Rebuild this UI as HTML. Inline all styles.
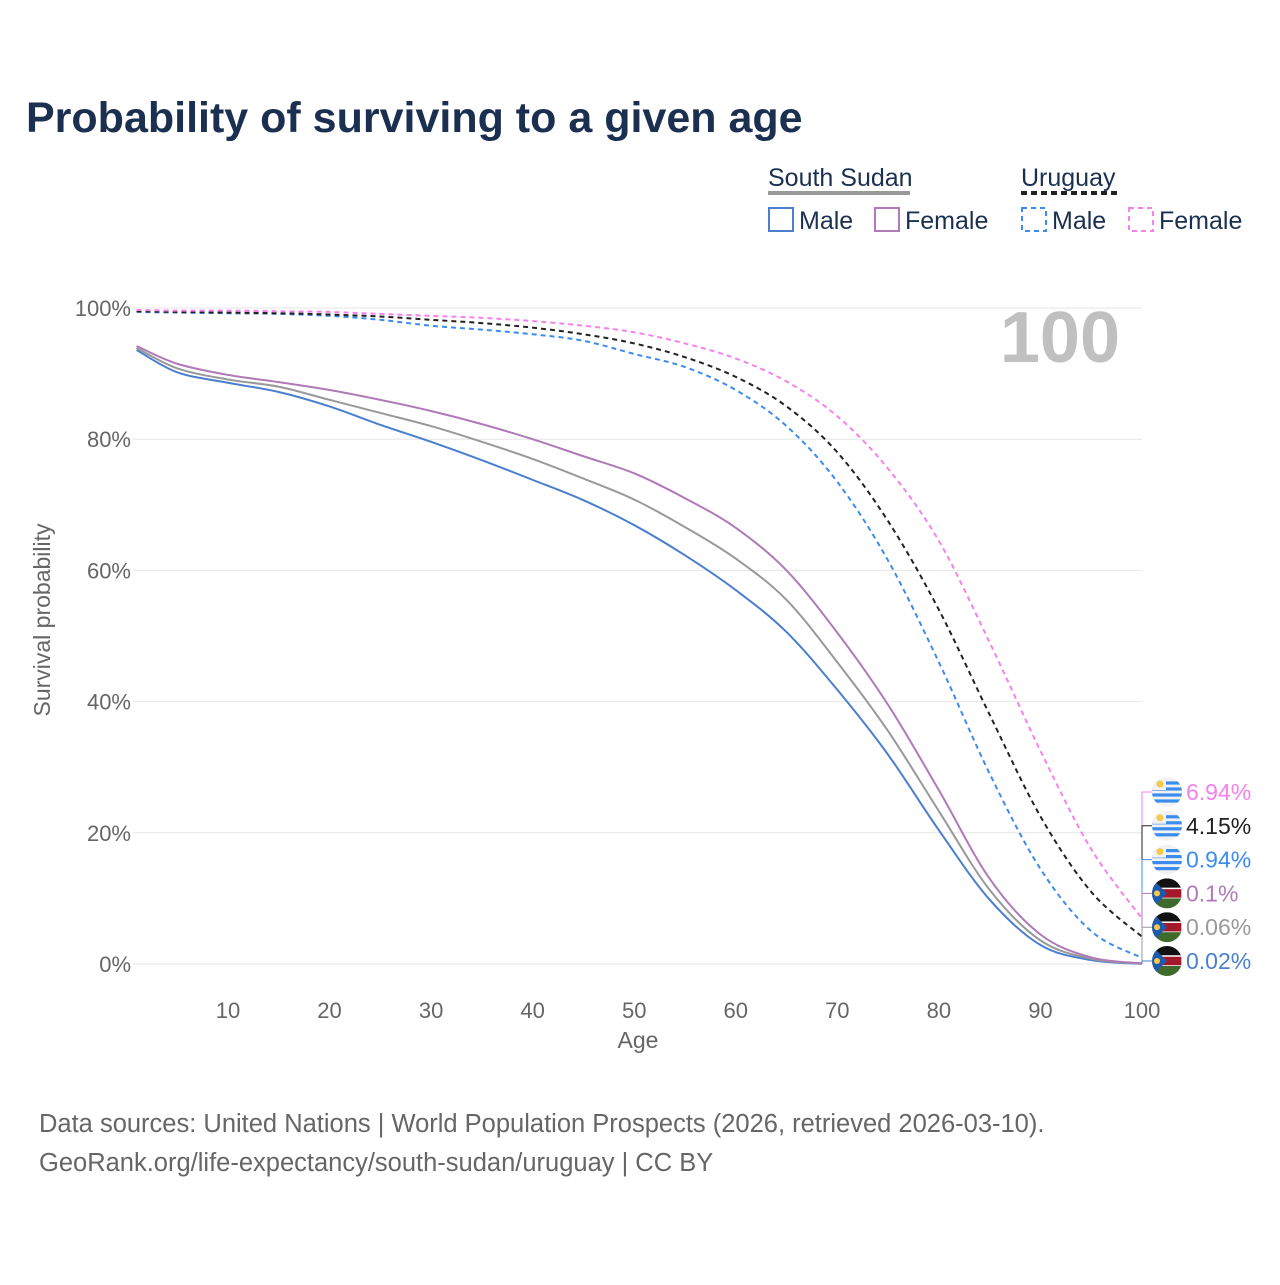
<!DOCTYPE html>
<html><head><meta charset="utf-8"><style>
body{margin:0;background:#fff;font-family:"Liberation Sans",sans-serif}
</style></head><body>
<svg id="c" width="1280" height="1280" xmlns="http://www.w3.org/2000/svg" style="font-family:'Liberation Sans',sans-serif">
<text x="26" y="132" font-size="43" font-weight="bold" fill="#1b3050">Probability of surviving to a given age</text>
<g font-size="25" fill="#1b3050">
<text x="768" y="186">South Sudan</text>
<line x1="768" x2="910" y1="193" y2="193" stroke="#999" stroke-width="4"/>
<text x="1021" y="186">Uruguay</text>
<line x1="1021" x2="1119" y1="193" y2="193" stroke="#222" stroke-width="4" stroke-dasharray="6,4"/>
<rect x="769" y="208" width="24" height="23" fill="none" stroke="#4a7fcf" stroke-width="2"/>
<text x="799" y="229">Male</text>
<rect x="875" y="208" width="24" height="23" fill="none" stroke="#b07ab8" stroke-width="2"/>
<text x="905" y="229">Female</text>
<rect x="1022" y="208" width="24" height="23" fill="none" stroke="#3c8cf0" stroke-width="2" stroke-dasharray="5,4"/>
<text x="1052" y="229">Male</text>
<rect x="1129" y="208" width="24" height="23" fill="none" stroke="#f780ef" stroke-width="2" stroke-dasharray="5,4"/>
<text x="1159" y="229">Female</text>
</g>
<text x="1120" y="362" font-size="72" font-weight="bold" fill="#c0c0c0" text-anchor="end">100</text>
<g id="grid"></g><g id="lines"></g><g id="ends"></g>
<text x="638" y="1048" font-size="23" fill="#666" text-anchor="middle">Age</text>
<text transform="translate(50,620) rotate(-90)" font-size="23" fill="#666" text-anchor="middle">Survival probability</text>
<text x="39" y="1132" font-size="25.5" fill="#666">Data sources: United Nations | World Population Prospects (2026, retrieved 2026-03-10).</text>
<text x="39" y="1171" font-size="25.5" fill="#666">GeoRank.org/life-expectancy/south-sudan/uruguay | CC BY</text>
</svg>
<script>
const ages=[1,5,10,15,20,25,30,35,40,45,50,55,60,65,70,75,80,85,90,95,100];
const ssMale=[93.6,90.2,88.6,87.2,85.0,82.2,79.6,76.8,73.8,70.7,66.9,62.3,57,50.6,41.8,31.9,20.4,9.8,2.9,0.6,0.02];
const ssFemale=[94.2,91.5,89.8,88.7,87.5,86,84.3,82.3,80,77.4,74.8,71,66.5,60,50.5,39.5,26.5,13,4.5,1,0.1];
const ssTotal=[93.9,90.8,89.1,88,86,84,82,79.6,77,74,70.8,66.6,61.8,55.5,46,35.5,23.3,11.3,3.6,0.8,0.06];
const uyMale=[99.4,99.3,99.2,99.1,98.8,98.2,97.3,96.7,96,95,93,91,87.5,82,73.5,61.5,46,29,14.5,5,0.94];
const uyTotal=[99.5,99.4,99.3,99.2,99,98.7,98.2,97.7,97,96,94.6,92.5,89.5,85,78,67.5,54,38,22.5,11,4.15];
const uyFemale=[99.7,99.6,99.6,99.5,99.4,99.1,98.8,98.5,98,97.3,96.3,94.6,92.3,88.8,83.5,75.5,64.5,49,32.5,17.5,6.94];
const xTicks=[10,20,30,40,50,60,70,80,90,100];
const yTicks=[0,20,40,60,80,100];
const X=a=>126.4+a*10.156, Y=v=>964-v*6.56;
const NS='http://www.w3.org/2000/svg';
function mk(t,at,p){const e=document.createElementNS(NS,t);for(const k in at)e.setAttribute(k,at[k]);p.appendChild(e);return e;}
const grid=document.getElementById('grid');
yTicks.forEach(v=>{
 const l=mk('line',{x1:133,x2:1142,y1:Y(v),y2:Y(v),stroke:'#e6e6e6','stroke-width':1},grid);
 
 
 const t=mk('text',{x:131,y:Y(v)+8,'font-size':22,fill:'#666','text-anchor':'end'},grid);
 t.textContent=v+'%';
 
 
});
xTicks.forEach(a=>{
 const t=mk('text',{x:X(a),y:1018,'font-size':22,fill:'#666','text-anchor':'middle'},grid);
 t.textContent=a;
 
 
});
const series=[
 ['ss-male',ssMale,'#4a7fcf',null],['ss-total',ssTotal,'#999',null],['ss-female',ssFemale,'#b07ab8',null],
 ['uy-male',uyMale,'#3c8cf0','5,4'],['uy-total',uyTotal,'#222','5,4'],['uy-female',uyFemale,'#f780ef','5,4']];
const lg=document.getElementById('lines');
function smooth(pts){let d='M'+pts[0][0]+','+pts[0][1];
 for(let i=0;i<pts.length-1;i++){const p0=pts[i-1]||pts[i],p1=pts[i],p2=pts[i+1],p3=pts[i+2]||p2;
 d+=' C'+(p1[0]+(p2[0]-p0[0])/6)+','+(p1[1]+(p2[1]-p0[1])/6)+' '+(p2[0]-(p3[0]-p1[0])/6)+','+(p2[1]-(p3[1]-p1[1])/6)+' '+p2[0]+','+p2[1];}
 return d;}
series.forEach(s=>{
 const pts=ages.map((a,i)=>[X(a),Y(s[1][i])]);
 const p=mk('path',{d:smooth(pts),fill:'none',stroke:s[2],'stroke-width':2},lg);
 if(s[3])p.setAttribute('stroke-dasharray',s[3]);
 
 
});
const ends=document.getElementById('ends');
const order=[[uyFemale,'#f780ef','uy'],[uyTotal,'#222','uy'],[uyMale,'#3c8cf0','uy'],[ssFemale,'#b07ab8','ss'],[ssTotal,'#999','ss'],[ssMale,'#4a7fcf','ss']];
order.forEach((o,i)=>{
 const ly=792+i*33.8,v=o[0][o[0].length-1];
 const c=mk('path',{d:`M${X(100)},${Y(v)} H1142 V${ly} H1152`,fill:'none',stroke:o[1],'stroke-width':1},ends);
 
 
 const g=mk('g',{},ends);
 
 
 const cx=1167,cy=ly;
 const cp=mk('clipPath',{id:'cp'+i},g);
 mk('circle',{cx,cy,r:15},cp);
 const h=mk('g',{'clip-path':`url(#cp${i})`},g);
 if(o[2]==='uy'){
  mk('rect',{x:cx-15,y:cy-15,width:30,height:30,fill:'#f2f2f2'},h);
  [-9,-3,3,9].forEach(dy=>mk('rect',{x:cx-15,y:cy+dy-1.6,width:30,height:3.2,fill:'#3c8cf0'},h));
  mk('rect',{x:cx-15,y:cy-15,width:14,height:13,fill:'#f2f2f2'},h);
  mk('circle',{cx:cx-7,cy:cy-8,r:3.5,fill:'#f7c948'},h);
 }else{
  mk('rect',{x:cx-15,y:cy-15,width:30,height:10,fill:'#111'},h);
  mk('rect',{x:cx-15,y:cy-5,width:30,height:10,fill:'#a4182a',stroke:'#fff','stroke-width':1.5},h);
  mk('rect',{x:cx-15,y:cy+5,width:30,height:10,fill:'#3e6b2c'},h);
  mk('polygon',{points:`${cx-15},${cy-15} ${cx},${cy} ${cx-15},${cy+15}`,fill:'#1c5ab0'},h);
  mk('circle',{cx:cx-10,cy,r:3,fill:'#f7c948'},h);
 }
 const t=mk('text',{x:1186,y:ly+8,'font-size':23,fill:o[1]},ends);
 t.textContent=v+'%';
 
 
});
</script>
</body></html>
